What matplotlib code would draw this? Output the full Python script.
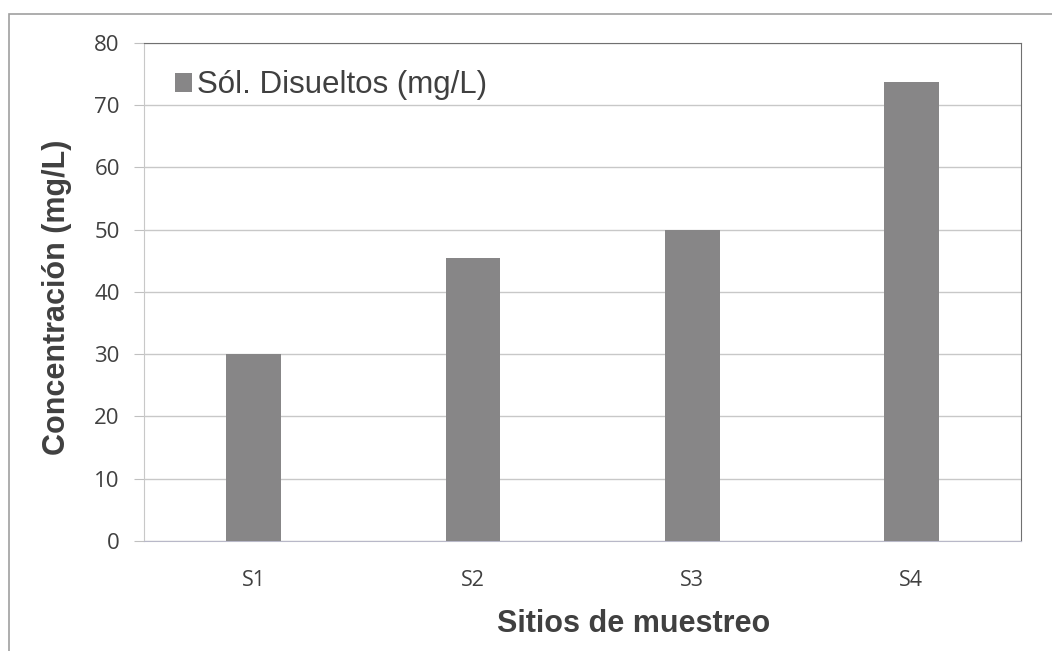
import matplotlib.pyplot as plt
from matplotlib.patches import Rectangle

sitios = ["S1", "S2", "S3", "S4"]
solidos = [30.0, 45.5, 50.0, 73.8]

plt.rcParams['font.family'] = ['Liberation Sans', 'DejaVu Sans']
tick_font = ['Open Sans', 'DejaVu Sans']

fig = plt.figure(figsize=(10.52, 6.51), dpi=100)
ax = fig.add_axes([0.137, 0.169, 0.8335, 0.765])

# marco exterior del grafico (solo se ven el borde superior e izquierdo)
fig.patches.append(Rectangle((9 / 1052, -0.05), 1.1, 1.05 - 14 / 651,
                             transform=fig.transFigure, fill=False,
                             edgecolor='#a0a0a0', linewidth=1.2))

x = range(len(sitios))
ax.bar(x, solidos, width=0.25, color='#878687', label='Sól. Disueltos (mg/L)', zorder=3)

ax.set_ylim(0, 80)
ax.set_xlim(-0.5, 3.5)
ax.set_yticks(range(0, 81, 10))
ax.set_xticks(list(x))
ax.set_xticklabels(sitios, fontsize=15.5, family=tick_font, color='#404040')
for lbl in ax.get_yticklabels():
    lbl.set_family(tick_font)
ax.tick_params(axis='y', labelsize=16, colors='#404040', length=7.5, color='#c0c0c0', pad=10)
ax.tick_params(axis='x', length=0, pad=21)
ax.grid(axis='y', color='#c8c8c8', linewidth=1, zorder=0)

ax.spines['left'].set_color('#c8c8c8')
ax.spines['bottom'].set_color('#b8b8c8')
ax.spines['top'].set_color('#707070')
ax.spines['right'].set_color('#707070')

ax.set_ylabel('Concentración (mg/L)', fontsize=22, fontweight='bold', color='#404040')
ax.set_xlabel('Sitios de muestreo', fontsize=22, fontweight='bold', color='#404040')
ax.yaxis.set_label_coords(-0.099, 0.49)
ax.xaxis.set_label_coords(0.558, -0.167)
ax.yaxis.label.set_va('center')
ax.xaxis.label.set_va('center')

ax.legend(loc='upper left', frameon=False, fontsize=22.5, handlelength=0.55, handleheight=0.55,
          handletextpad=0.15, labelcolor='#404040', borderaxespad=0.4,
          bbox_to_anchor=(0.007, 0.995))

fig.savefig('out.png', dpi=100)
